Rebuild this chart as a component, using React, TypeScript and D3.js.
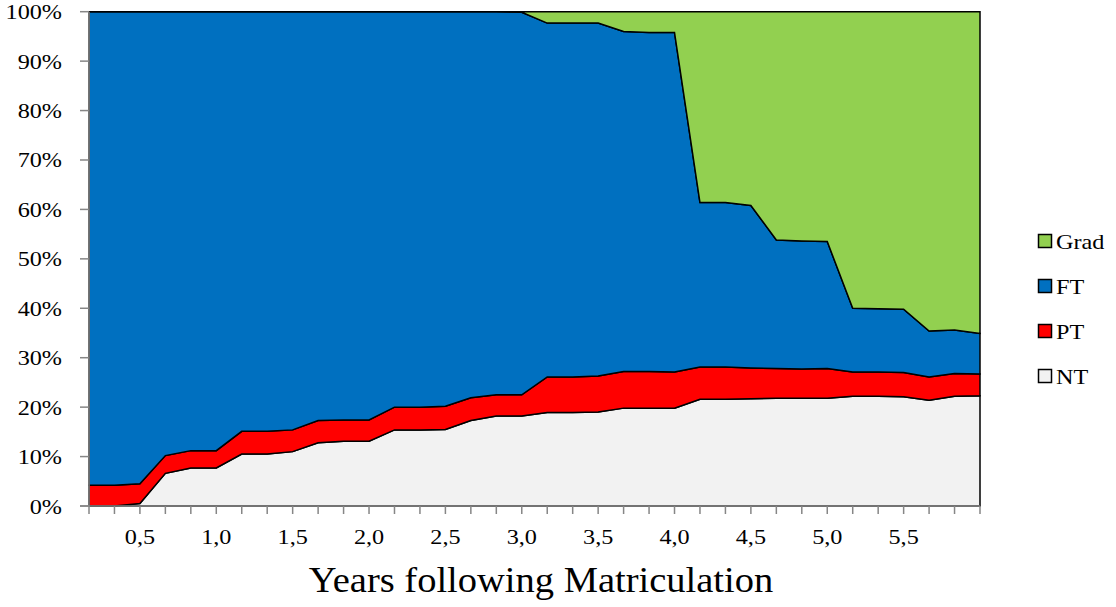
import React from 'react';
import * as d3 from 'd3';

// Categories: months following matriculation (one every 2 months)
const months = [2, 4, 6, 8, 10, 12, 14, 16, 18, 20, 22, 24, 26, 28, 30, 32, 34, 36,
  38, 40, 42, 44, 46, 48, 50, 52, 54, 56, 58, 60, 62, 64, 66, 68, 70, 72];

// Series values (% of cohort)
const NT = [0, 0, 0.5, 6.6, 7.7, 7.7, 10.5, 10.5, 11.0, 12.8, 13.1, 13.1, 15.4, 15.4, 15.5, 17.3, 18.2, 18.2,
  18.9, 18.9, 19.0, 19.8, 19.8, 19.8, 21.6, 21.6, 21.7, 21.8, 21.8, 21.8, 22.2, 22.2, 22.1, 21.4, 22.2, 22.3];
const PT = [4.2, 4.2, 4.0, 3.6, 3.5, 3.5, 4.6, 4.6, 4.4, 4.5, 4.3, 4.3, 4.6, 4.6, 4.7, 4.6, 4.3, 4.3,
  7.2, 7.2, 7.3, 7.4, 7.4, 7.3, 6.5, 6.5, 6.2, 6.0, 5.9, 6.0, 4.9, 4.9, 4.9, 4.7, 4.6, 4.4];
const FT = [95.8, 95.8, 95.5, 89.8, 88.8, 88.8, 84.9, 84.9, 84.6, 82.7, 82.6, 82.6, 80.0, 80.0, 79.8, 78.1, 77.5, 77.4,
  71.6, 71.6, 71.4, 68.8, 68.6, 68.7, 33.3, 33.3, 32.9, 26.0, 25.9, 25.7, 12.9, 12.8, 12.8, 9.3, 8.8, 8.2];
const Grad = [0, 0, 0, 0, 0, 0, 0, 0, 0, 0, 0, 0, 0, 0, 0, 0, 0, 0.1,
  2.3, 2.3, 2.3, 4.0, 4.2, 4.2, 38.6, 38.6, 39.2, 46.2, 46.4, 46.5, 60.0, 60.1, 60.2, 64.6, 64.4, 65.1];

const yTicks = [0, 10, 20, 30, 40, 50, 60, 70, 80, 90, 100];
const xLabelMonths = [6, 12, 18, 24, 30, 36, 42, 48, 54, 60, 66];
const xLabels = ['0,5', '1,0', '1,5', '2,0', '2,5', '3,0', '3,5', '4,0', '4,5', '5,0', '5,5'];

const seriesKeys = ['NT', 'PT', 'FT', 'Grad'];
const seriesColors: Record<string, string> = { NT: '#F2F2F2', PT: '#FF0000', FT: '#0070C0', Grad: '#92D050' };
const legendOrder = ['Grad', 'FT', 'PT', 'NT'];

const W = 1116, H = 607;
const left = 89, right = 980, top = 11.7, bottom = 506;
const FONT = '"Liberation Serif", "Times New Roman", serif';
const AXIS = '#868686';

export default function App() {
  const rows = months.map((m, i) => ({ m, NT: NT[i], PT: PT[i], FT: FT[i], Grad: Grad[i] }));
  const x = d3.scaleLinear().domain([months[0], months[months.length - 1]]).range([left, right]);
  const y = d3.scaleLinear().domain([0, 100]).range([bottom, top]);
  const stack = d3.stack<any>().keys(seriesKeys);
  const layers = stack(rows);
  const area = d3.area<any>()
    .x((d) => x(d.data.m))
    .y0((d) => y(d[0]))
    .y1((d) => y(d[1]));

  return (
    <svg width={W} height={H} style={{ position: 'absolute', left: 0, top: 0, background: '#fff', fontFamily: FONT }}>
      {layers.map((l) => (
        <path key={l.key} d={area(l) || ''} fill={seriesColors[l.key]} stroke="#000" strokeWidth={1.5}
          strokeLinejoin="miter" />
      ))}
      {/* Y axis */}
      <line x1={left} x2={left} y1={top} y2={bottom} stroke={AXIS} strokeWidth={1.5} />
      {yTicks.map((t) => (
        <g key={t}>
          <line x1={left - 9} x2={left} y1={y(t)} y2={y(t)} stroke={AXIS} strokeWidth={1.5} />
          <text transform={`translate(${left - 27},${y(t) + 7.5}) scale(1.1,1)`} textAnchor="end"
            fontSize={22} fill="#000">{t}%</text>
        </g>
      ))}
      {/* X axis */}
      <line x1={left - 9} x2={right} y1={bottom} y2={bottom} stroke={AXIS} strokeWidth={1.5} />
      {months.map((m) => (
        <line key={m} x1={x(m)} x2={x(m)} y1={bottom} y2={bottom + 8} stroke={AXIS} strokeWidth={1.5} />
      ))}
      {xLabelMonths.map((m, i) => (
        <text key={m} transform={`translate(${x(m)},${544}) scale(1.1,1)`} textAnchor="middle"
          fontSize={22} fill="#000">{xLabels[i]}</text>
      ))}
      <text transform={`translate(${541},${592}) scale(1.1,1)`} textAnchor="middle" fontSize={35} fill="#000">
        Years following Matriculation
      </text>
      {/* Legend */}
      {legendOrder.map((k, i) => {
        const cy = 241 + i * 45;
        return (
          <g key={k}>
            <rect x={1038.5} y={cy - 6.5} width={13} height={13} fill={seriesColors[k]} stroke="#000" strokeWidth={1.5} />
            <text transform={`translate(${1056},${cy + 7.5}) scale(1.1,1)`} fontSize={22} fill="#000">{k}</text>
          </g>
        );
      })}
    </svg>
  );
}
